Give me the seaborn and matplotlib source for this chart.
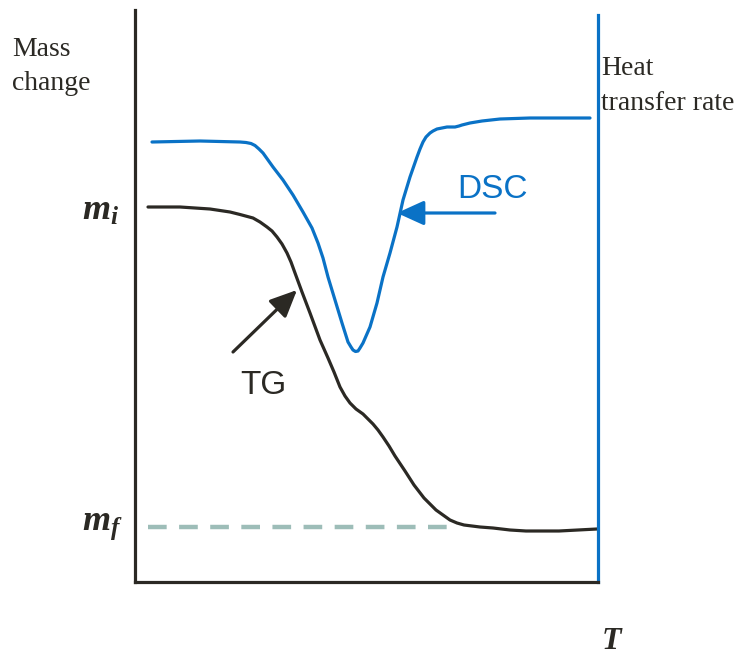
import numpy as np
import pandas as pd
import matplotlib
matplotlib.use("Agg")
import matplotlib.pyplot as plt
import seaborn as sns

# Temperature axis (arbitrary units) and signal levels for the two curves
tg_temp = [13, 45, 75, 95, 105, 118, 125, 132, 137, 142, 147, 152, 156, 160, 167,
           175, 185, 193, 199, 205, 210, 215, 221, 228, 233, 238, 243, 248, 254, 260,
           270, 279, 289, 295, 301, 308, 315, 322, 329, 345, 358, 375, 391, 424, 462]
tg_mass = [375, 375, 373, 370, 367.5, 364, 360, 355, 351, 345, 338, 329, 320, 309, 290,
           269, 242, 224, 210, 195, 186, 179, 173, 168, 163, 158, 152, 145, 136, 126,
           111, 97, 84, 78, 72, 67, 62, 59, 57, 55, 54, 52, 51, 51, 53]

dsc_temp = [17, 65, 105, 111, 116, 120, 124, 128, 133, 138, 148, 158, 168, 177, 183,
            188, 193, 200, 207, 213, 216, 218, 220.5, 223, 225, 228, 235, 242, 248, 255,
            262, 268, 275, 282, 285, 288, 291, 295, 298, 302, 307, 312, 320, 324, 327,
            331, 335, 347, 365, 395, 455]
dsc_heat = [440, 441, 440, 439.5, 438.5, 436.5, 433, 429, 422, 415, 402, 387, 370, 354, 339,
            324, 305, 282, 259, 240, 235, 232, 230.5, 231, 234, 239, 255, 279, 305, 329,
            355, 382, 405, 425, 433, 440, 445, 449, 451, 453, 454, 455, 455, 456, 457,
            458, 459, 461, 463, 464, 464]

m_final = 55
dash_start, dash_end = 13, 322

tg_df = pd.DataFrame({"T": tg_temp, "signal": tg_mass})
dsc_df = pd.DataFrame({"T": dsc_temp, "signal": dsc_heat})

sns.set_style("white")
plt.rcParams["font.family"] = ["Liberation Sans", "DejaVu Sans"]
plt.rcParams["mathtext.fontset"] = "custom"
plt.rcParams["mathtext.bf"] = "Liberation Serif:bold:italic"
plt.rcParams["mathtext.it"] = "Liberation Serif:bold:italic"
plt.rcParams["mathtext.rm"] = "Liberation Serif:bold:italic"

W, H = 744, 655
fig = plt.figure(figsize=(W / 100, H / 100), dpi=100)
ax = fig.add_axes([135 / W, (H - 582) / H, (598 - 135) / W, (582 - 10) / H])

black = "#2b2924"
blue = "#0a72c6"

sns.lineplot(data=tg_df, x="T", y="signal", ax=ax, color=black, lw=2.3,
             estimator=None, sort=False)
sns.lineplot(data=dsc_df, x="T", y="signal", ax=ax, color=blue, lw=2.3,
             estimator=None, sort=False)
for line in ax.lines:
    line.set_solid_joinstyle("round")
    line.set_solid_capstyle("round")
ax.plot([dash_start, dash_end], [m_final, m_final], color="#9dbdb8", lw=3.2,
        dashes=(4.2, 2.8), solid_capstyle="butt")

ax.set_xlim(0, 463)
ax.set_ylim(0, 572)
ax.set_xticks([])
ax.set_yticks([])
ax.set_xlabel("")
ax.set_ylabel("")

ax.spines["top"].set_visible(False)
for side in ("left", "bottom"):
    ax.spines[side].set_color(black)
    ax.spines[side].set_linewidth(2.3)
ax.spines["right"].set_color(blue)
ax.spines["right"].set_linewidth(2.3)
ax.spines["right"].set_bounds(0, 567)

# Arrows pointing to each curve
ax.annotate("", xy=(262, 369), xytext=(360, 369),
            arrowprops=dict(arrowstyle="-|>,head_length=1.1,head_width=0.5",
                            color=blue, lw=2.3, mutation_scale=15,
                            shrinkA=0, shrinkB=0))
ax.annotate("", xy=(162, 292), xytext=(98, 230),
            arrowprops=dict(arrowstyle="-|>,head_length=1.1,head_width=0.5",
                            color=black, lw=2.3, mutation_scale=15,
                            shrinkA=0, shrinkB=0))

ax.text(358, 392, "DSC", color=blue, fontsize=24, ha="center", va="center")
ax.text(128, 197, "TG", color=black, fontsize=24, ha="center", va="center")

def fxy(px, py):
    return px / W, 1 - py / H

serif = "Liberation Serif"
for txt, px, py in [("Mass", 12, 56), ("change", 12, 90),
                    ("Heat", 601, 75), ("transfer rate", 601, 110)]:
    fig.text(*fxy(px, py), txt, fontsize=20, family=serif, color=black,
             ha="left", va="baseline")
fig.text(*fxy(82, 220), r"$\mathbf{m_i}$", fontsize=26, color=black,
         ha="left", va="baseline")
fig.text(*fxy(82, 530), r"$\mathbf{m_f}$", fontsize=26, color=black,
         ha="left", va="baseline")
fig.text(*fxy(612, 649), r"$\mathbf{T}$", fontsize=23, color=black,
         ha="center", va="baseline")

fig.savefig("out.png", dpi=100)
